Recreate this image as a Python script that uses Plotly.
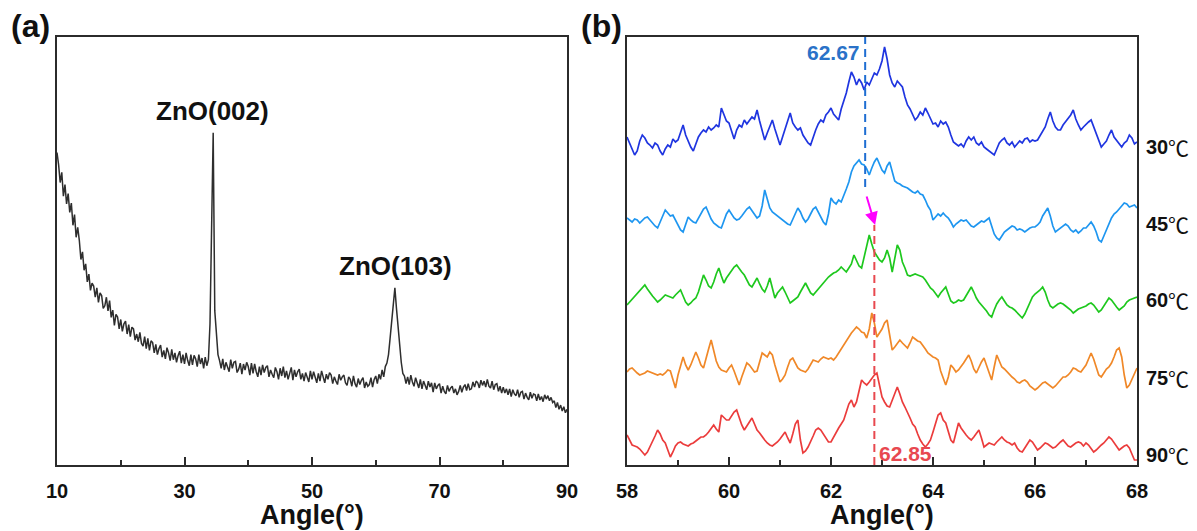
import numpy as np
import plotly.graph_objects as go

# ---------------- data ----------------
# (a) full XRD scan, 2-theta grid 10..90 deg, step 0.25
angle_a = np.round(np.arange(10.0, 90.0001, 0.25), 2)
counts_a = [
    730, 702, 660, 684, 628, 655, 610, 634, 590, 612, 560, 585, 532, 555, 525, 480,
    498, 455, 470, 428, 446, 408, 425, 418, 392, 414, 380, 402, 396, 366, 372, 392,
    360, 384, 345, 362, 326, 352, 346, 318, 340, 312, 330, 336, 306, 328, 300, 322,
    318, 292, 306, 288, 310, 284, 278, 300, 272, 296, 268, 290, 286, 262, 282, 258,
    272, 280, 252, 268, 248, 274, 262, 244, 270, 246, 262, 240, 256, 266, 238, 258,
    236, 262, 244, 232, 258, 234, 256, 248, 230, 258, 236, 250, 226, 252, 232, 246,
    330, 560, 776, 360, 296, 258, 244, 226, 248, 222, 240, 230, 218, 246, 226, 240,
    242, 216, 224, 238, 212, 236, 222, 240, 230, 210, 238, 214, 236, 218, 206, 230,
    210, 234, 216, 228, 232, 206, 222, 212, 204, 228, 218, 200, 226, 208, 230, 204,
    220, 200, 212, 228, 198, 222, 206, 218, 224, 200, 214, 196, 216, 204, 194, 220,
    200, 218, 206, 192, 214, 196, 220, 204, 192, 212, 200, 216, 210, 190, 206, 196,
    188, 212, 198, 206, 210, 192, 186, 206, 200, 184, 208, 190, 182, 202, 188, 198,
    204, 180, 194, 184, 188, 204, 182, 200, 208, 190, 212, 200, 222, 206, 230, 238,
    258, 296, 336, 388, 414, 366, 318, 268, 240, 214, 208, 190, 206, 188, 210, 194,
    184, 204, 190, 180, 200, 178, 196, 186, 176, 196, 182, 192, 170, 192, 178, 186,
    190, 168, 184, 172, 166, 186, 172, 180, 184, 168, 178, 164, 172, 186, 170, 182,
    188, 174, 190, 176, 178, 194, 182, 196, 192, 180, 198, 186, 196, 182, 200, 184,
    180, 196, 176, 188, 190, 172, 184, 168, 182, 168, 178, 164, 178, 160, 176, 166,
    162, 176, 158, 170, 172, 154, 168, 158, 152, 170, 156, 166, 164, 150, 166, 152,
    160, 148, 164, 154, 162, 150, 158, 146, 150, 134, 146, 130, 140, 126, 136, 122,
    130,
]
peak_labels_a = ["ZnO(002)", "ZnO(103)"]

# (b) ZnO(103) region, 2-theta grid 58..68 deg, step 0.05
angle_b = np.round(np.arange(58.0, 68.0001, 0.05), 2)
temps = ["30", "45", "60", "75", "90"]
i_30 = [
    20, 14, 8, 2, 6, 16, 22, 19, 14, 12, 9, 14, 12, 6, 2, 8, 12, 10, 18, 15,
    17, 24, 32, 22, 15, 10, 6, 14, 20, 24, 27, 25, 30, 27, 29, 32, 30, 49, 42, 36,
    34, 26, 18, 27, 32, 30, 37, 33, 36, 40, 38, 47, 36, 26, 17, 24, 30, 37, 28, 20,
    12, 20, 29, 36, 44, 34, 30, 27, 29, 22, 18, 14, 12, 20, 27, 33, 37, 35, 42, 45,
    49, 43, 40, 37, 48, 56, 64, 75, 85, 80, 72, 78, 74, 67, 75, 72, 78, 84, 82, 88,
    96, 110, 98, 82, 74, 70, 76, 73, 70, 60, 52, 48, 42, 37, 40, 45, 42, 49, 44, 38,
    33, 34, 30, 36, 33, 35, 30, 22, 15, 13, 11, 13, 10, 16, 20, 17, 20, 14, 12, 15,
    10, 8, 6, 4, 2, 8, 14, 17, 19, 14, 12, 15, 10, 13, 16, 14, 18, 19, 15, 17,
    16, 17, 21, 26, 30, 38, 45, 36, 30, 27, 27, 32, 35, 38, 42, 47, 38, 32, 27, 30,
    33, 35, 37, 30, 24, 15, 10, 13, 16, 22, 27, 20, 17, 13, 10, 14, 16, 22, 19, 13,
    15,
]
i_45 = [
    26, 24, 22, 25, 24, 21, 24, 26, 27, 24, 20, 18, 16, 22, 28, 34, 31, 28, 29, 24,
    20, 14, 12, 19, 27, 24, 22, 21, 26, 30, 35, 37, 30, 25, 21, 19, 17, 16, 24, 30,
    34, 30, 26, 24, 25, 28, 32, 35, 37, 33, 30, 26, 28, 38, 54, 44, 36, 32, 30, 28,
    26, 24, 22, 20, 19, 25, 30, 36, 32, 26, 22, 25, 30, 35, 37, 32, 27, 22, 19, 30,
    46, 42, 40, 44, 42, 48, 55, 62, 72, 78, 81, 84, 80, 79, 75, 69, 76, 82, 86, 80,
    74, 71, 78, 82, 72, 63, 61, 60, 58, 57, 56, 54, 52, 51, 53, 50, 49, 44, 38, 34,
    24, 27, 30, 28, 31, 28, 26, 22, 17, 20, 22, 24, 23, 24, 21, 18, 17, 19, 21, 23,
    22, 24, 26, 18, 10, 6, 4, 8, 12, 14, 16, 18, 17, 14, 15, 14, 12, 14, 16, 17,
    17, 19, 22, 28, 32, 36, 28, 18, 12, 14, 16, 18, 20, 18, 14, 12, 14, 11, 13, 16,
    16, 19, 22, 18, 12, 4, 2, 8, 14, 20, 26, 30, 32, 35, 38, 41, 40, 37, 38, 39,
    36,
]
i_60 = [
    15, 18, 21, 24, 26, 30, 33, 35, 31, 27, 24, 21, 18, 20, 23, 25, 24, 23, 22, 25,
    28, 30, 24, 18, 15, 17, 20, 22, 28, 38, 45, 40, 34, 32, 38, 46, 52, 44, 37, 42,
    46, 50, 53, 55, 51, 48, 45, 40, 35, 33, 38, 42, 36, 31, 28, 34, 42, 32, 22, 27,
    30, 33, 28, 22, 17, 19, 21, 23, 28, 33, 37, 32, 27, 25, 28, 32, 35, 37, 40, 43,
    45, 47, 48, 50, 53, 50, 48, 52, 56, 65, 60, 54, 52, 62, 74, 85, 76, 68, 64, 60,
    58, 62, 70, 62, 48, 60, 75, 70, 58, 52, 45, 44, 45, 46, 45, 44, 43, 40, 36, 32,
    30, 26, 23, 27, 30, 33, 26, 19, 17, 18, 20, 19, 20, 24, 28, 33, 28, 22, 18, 15,
    13, 9, 5, 3, 10, 16, 20, 23, 19, 15, 13, 12, 10, 7, 4, 2, 6, 12, 18, 23,
    26, 28, 30, 33, 28, 20, 14, 12, 14, 16, 17, 16, 14, 12, 10, 7, 9, 11, 12, 13,
    14, 16, 17, 15, 12, 8, 10, 14, 18, 22, 20, 16, 13, 10, 12, 14, 18, 20, 21, 22,
    23,
]
i_75 = [
    23, 26, 27, 24, 22, 20, 21, 22, 24, 23, 22, 21, 20, 21, 20, 22, 25, 24, 14, 7,
    20, 30, 38, 30, 25, 30, 36, 43, 37, 30, 27, 38, 46, 55, 45, 34, 28, 25, 24, 23,
    27, 30, 24, 16, 10, 18, 26, 32, 30, 27, 23, 24, 34, 42, 40, 38, 43, 40, 30, 20,
    13, 16, 20, 28, 35, 37, 32, 27, 25, 24, 23, 26, 30, 35, 34, 33, 36, 38, 37, 36,
    37, 35, 38, 42, 47, 50, 55, 58, 62, 65, 68, 66, 63, 62, 57, 66, 82, 72, 58, 62,
    66, 72, 75, 60, 45, 48, 52, 55, 52, 49, 47, 52, 58, 56, 54, 53, 50, 46, 42, 40,
    38, 37, 35, 24, 16, 10, 18, 30, 27, 23, 25, 28, 32, 36, 40, 34, 26, 22, 28, 33,
    37, 30, 22, 15, 28, 40, 34, 28, 26, 23, 20, 18, 16, 13, 12, 14, 15, 13, 9, 7,
    5, 7, 10, 12, 13, 11, 9, 7, 9, 12, 15, 18, 18, 20, 23, 27, 26, 24, 23, 26,
    30, 36, 42, 36, 28, 20, 18, 22, 26, 28, 32, 38, 45, 47, 38, 20, 7, 10, 16, 22,
    27,
]
i_90 = [
    35, 30, 25, 24, 23, 21, 18, 15, 18, 23, 28, 34, 40, 36, 30, 27, 20, 13, 18, 24,
    27, 28, 26, 25, 24, 26, 27, 29, 31, 33, 33, 35, 38, 42, 45, 41, 38, 55, 52, 50,
    50, 54, 58, 60, 52, 45, 40, 44, 48, 52, 46, 40, 37, 33, 30, 27, 25, 24, 26, 28,
    31, 35, 38, 32, 27, 36, 46, 50, 30, 17, 19, 23, 28, 34, 40, 42, 40, 36, 32, 28,
    28, 33, 37, 42, 46, 50, 58, 66, 70, 63, 68, 78, 90, 87, 85, 88, 92, 95, 97, 84,
    73, 68, 64, 63, 70, 76, 83, 76, 68, 63, 58, 52, 46, 43, 36, 30, 26, 23, 26, 30,
    38, 46, 55, 57, 50, 47, 38, 30, 27, 36, 47, 42, 38, 35, 32, 30, 33, 37, 40, 32,
    23, 25, 27, 26, 25, 28, 31, 33, 30, 28, 27, 25, 27, 22, 19, 18, 22, 26, 30, 28,
    24, 20, 22, 25, 27, 26, 24, 22, 23, 26, 28, 30, 27, 24, 23, 25, 27, 28, 27, 24,
    27, 25, 22, 18, 20, 23, 25, 27, 30, 33, 31, 27, 23, 20, 22, 24, 25, 22, 16, 10,
    10,
]
peak_pos = [62.67, 62.85]  # 30 C and 90 C peak centres

# ---------------- styling / layout ----------------
W, H = 1197, 531
AX_L_A, AX_R_A = 57, 567
AX_L_B, AX_R_B = 627, 1137
AX_T, AX_B = 37, 465

series_b = [i_30, i_45, i_60, i_75, i_90]
colors_b = ["#1f35e0", "#1e96f0", "#1ec81e", "#f08828", "#eb3c3c"]
offsets_b = [308, 221, 145, 70, -5]
label_y_b = [318, 241, 165, 87, 10]

FONT = "Arial, Liberation Sans, sans-serif"
AXC = "#2b2b2b"
TXT = "#111111"

fig = go.Figure()

fig.add_trace(go.Scatter(
    x=angle_a, y=counts_a, mode="lines",
    line=dict(color="#2e2e2e", width=1.5),
    xaxis="x", yaxis="y", showlegend=False,
))

for vals, col, off in zip(series_b, colors_b, offsets_b):
    fig.add_trace(go.Scatter(
        x=angle_b, y=np.array(vals) + off, mode="lines",
        line=dict(color=col, width=1.7),
        xaxis="x2", yaxis="y2", showlegend=False,
    ))

ydom = [(H - AX_B) / H, (H - AX_T) / H]

def xaxis_cfg(dom, rng, dtick, minor_dtick):
    return dict(
        domain=dom, range=rng, dtick=dtick, tick0=rng[0],
        showline=True, linecolor=AXC, linewidth=1.6, mirror=True,
        ticks="inside", ticklen=8, tickwidth=1.5, tickcolor=AXC,
        minor=dict(ticks="inside", ticklen=5, tickwidth=1.5, tickcolor=AXC,
                   dtick=minor_dtick, tick0=rng[0]),
        showgrid=False, zeroline=False,
        tickfont=dict(family=FONT, size=20, color=TXT, weight="bold"),
        ticklabelstandoff=7,
    )

def yaxis_cfg(anchor, rng):
    return dict(
        domain=ydom, range=rng, anchor=anchor,
        showline=True, linecolor=AXC, linewidth=1.6, mirror=True,
        showticklabels=False, ticks="", showgrid=False, zeroline=False,
    )

annotations = []
# panel letters
for letter, px in [("(a)", 9), ("(b)", 579)]:
    annotations.append(dict(text="<b>" + letter + "</b>", x=px / W, y=1 - 26 / H,
                            xref="paper", yref="paper", xanchor="left", yanchor="middle",
                            showarrow=False, font=dict(family=FONT, size=32, color=TXT)))
# axis titles
for l, r in [(AX_L_A, AX_R_A), (AX_L_B, AX_R_B)]:
    annotations.append(dict(text="<b>Angle(°)</b>", x=(l + r) / 2 / W, y=1 - 515 / H,
                            xref="paper", yref="paper", xanchor="center", yanchor="middle",
                            showarrow=False, font=dict(family=FONT, size=27, color=TXT)))
# peak labels in (a)
annotations.append(dict(text="<b>" + peak_labels_a[0] + "</b>", x=34.4, y=826, xref="x", yref="y",
                        showarrow=False, font=dict(family=FONT, size=26, color=TXT)))
annotations.append(dict(text="<b>" + peak_labels_a[1] + "</b>", x=63.1, y=465, xref="x", yref="y",
                        showarrow=False, font=dict(family=FONT, size=26, color=TXT)))
# temperature labels in (b)
for t, ly in zip(temps, label_y_b):
    annotations.append(dict(
        text="<b>" + t + "</b>", x=(AX_R_B + 7) / W, y=ly, xref="paper", yref="y2",
        xanchor="left", yanchor="middle", showarrow=False,
        font=dict(family=FONT, size=20, color=TXT)))
    annotations.append(dict(
        text="℃", x=(AX_R_B + 29) / W, y=ly, xref="paper", yref="y2",
        xanchor="left", yanchor="middle", showarrow=False,
        font=dict(family="Noto Sans CJK SC", size=21, color=TXT, weight="normal")))
# peak position values
annotations.append(dict(text="<b>%.2f</b>" % peak_pos[0], x=peak_pos[0], y=412, xref="x2", yref="y2",
                        xanchor="right", yanchor="middle", xshift=-3, showarrow=False,
                        font=dict(family=FONT, size=21, color="#2a72c8")))
annotations.append(dict(text="<b>%.2f</b>" % peak_pos[1], x=peak_pos[1], y=12, xref="x2", yref="y2",
                        xanchor="left", yanchor="middle", xshift=3, showarrow=False,
                        font=dict(family=FONT, size=21, color="#e84850")))
# shift arrow
annotations.append(dict(x=62.865, y=240, ax=62.69, ay=270, xref="x2", yref="y2",
                        axref="x2", ayref="y2", text="", showarrow=True,
                        arrowhead=2, arrowsize=1.3, arrowwidth=2, arrowcolor="#ff00ff"))

shapes = [
    dict(type="line", xref="x2", yref="y2", x0=peak_pos[0], x1=peak_pos[0], y0=278, y1=428,
         line=dict(color="#1e6ed2", width=2, dash="8px,5px")),
    dict(type="line", xref="x2", yref="y2", x0=peak_pos[1], x1=peak_pos[1], y0=0, y1=240,
         line=dict(color="#e8484f", width=2, dash="8px,5px")),
]

fig.update_layout(
    width=W, height=H,
    margin=dict(l=0, r=0, t=0, b=0, autoexpand=False),
    paper_bgcolor="white", plot_bgcolor="white",
    xaxis=xaxis_cfg([AX_L_A / W, AX_R_A / W], [10, 90], 20, 10) | dict(anchor="y"),
    yaxis=yaxis_cfg("x", [0, 1000]),
    xaxis2=xaxis_cfg([AX_L_B / W, AX_R_B / W], [58, 68], 2, 1) | dict(anchor="y2"),
    yaxis2=yaxis_cfg("x2", [0, 428]),
    annotations=annotations,
    shapes=shapes,
)

fig.write_html("out.html")
